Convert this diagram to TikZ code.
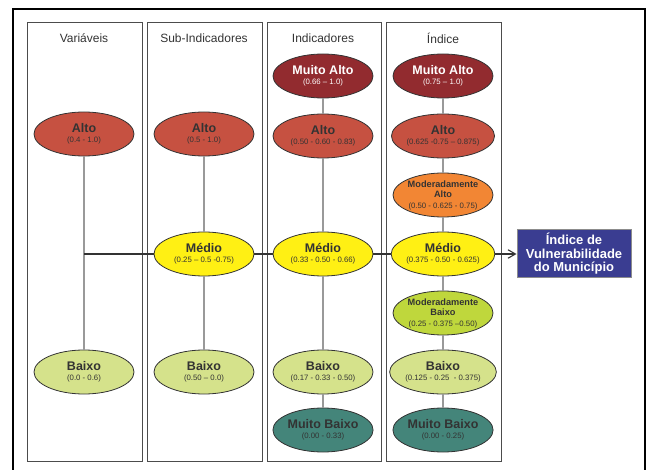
\documentclass[tikz,border=0pt]{standalone}
\usepackage{fontspec}
\setmainfont{Liberation Sans}
\usepackage{tikz}
\usetikzlibrary{arrows.meta}
\usetikzlibrary{shapes.geometric}
\usepackage{xcolor}

\definecolor{muitoalto}{HTML}{922B2F}
\definecolor{alto}{HTML}{C65141}
\definecolor{modalto}{HTML}{F28634}
\definecolor{medio}{HTML}{FFF014}
\definecolor{modbaixo}{HTML}{BFD73C}
\definecolor{baixo}{HTML}{D5E28B}
\definecolor{muitobaixo}{HTML}{44857A}
\definecolor{indice}{HTML}{3A3D91}
\definecolor{txt}{HTML}{333333}

\newcommand{\lvl}[2]{{\bfseries\fontsize{12.5}{13}\selectfont #1}\\[-2pt]{\fontsize{7.8}{8}\selectfont #2}}
\newcommand{\lvlmod}[3]{{\bfseries\fontsize{9.2}{9.5}\selectfont #1}\\[-1.5pt]{\bfseries\fontsize{9.2}{9.5}\selectfont #2}\\[-1.5pt]{\fontsize{7.8}{8}\selectfont #3}}

\begin{document}
\begin{tikzpicture}[x=1pt,y=-1pt]
\tikzset{>={Straight Barb[length=2.6mm,width=3mm]}}
\tikzstyle{level} =[ellipse, draw=txt, line width=0.8pt, text=txt, align=center, inner sep=0pt, minimum width=100pt, minimum height=44pt]
\tikzstyle{column} =[draw=black!70, line width=0.9pt]
\tikzstyle{title} =[text=txt, font=\fontsize{12}{13}\selectfont]
\tikzstyle{link} =[draw=black!40, line width=1.4pt]
\tikzstyle{flow} =[draw=txt, line width=1.1pt]

\useasboundingbox (0,0) rectangle (648,470);

% frame and columns
\draw [line width=1.4pt] (13,475) -- (13,9) -- (645,9) -- (645,475);
\draw [column] (27,22) rectangle (142,461);
\draw [column] (147,22) rectangle (262,461);
\draw [column] (267,22) rectangle (381,461);
\draw [column] (386,22) rectangle (501,461);

\node[title](t1) at (84,38){Variáveis};
\node[title](t2) at (204,38){Sub-Indicadores};
\node[title](t3) at (323,38){Indicadores};
\node[title](t4) at (443,38){Índice};

% Variaveis
\node[level,fill=alto](a1) at (84,134){\lvl{Alto}{(0.4 - 1.0)}};
\node[level,fill=baixo](b1) at (84,372){\lvl{Baixo}{(0.0 - 0.6)}};
\coordinate (j1) at (84,254);

% Sub-Indicadores
\node[level,fill=alto](a2) at (204,134){\lvl{Alto}{(0.5 - 1.0)}};
\node[level,fill=medio](m2) at (204,254){\lvl{Médio}{(0.25 -- 0.5 -0.75)}};
\node[level,fill=baixo](b2) at (204,372){\lvl{Baixo}{(0.50 -- 0.0)}};

% Indicadores
\node[level,fill=muitoalto,text=white](ma3) at (323,76){\lvl{Muito Alto}{(0.66 -- 1.0)}};
\node[level,fill=alto](a3) at (323,136){\lvl{Alto}{(0.50 - 0.60 - 0.83)}};
\node[level,fill=medio](m3) at (323,254){\lvl{Médio}{(0.33 - 0.50 - 0.66)}};
\node[level,fill=baixo](b3) at (323,372){\lvl{Baixo}{(0.17 - 0.33 - 0.50)}};
\node[level,fill=muitobaixo](mb3) at (323,430){\lvl{Muito Baixo}{(0.00 - 0.33)}};

% Indice
\node[level,fill=muitoalto,text=white](ma4) at (443,76){\lvl{Muito Alto}{(0.75 -- 1.0)}};
\node[level,fill=alto](a4) at (443,136){\lvl{Alto}{(0.625 -0.75 -- 0.875)}};
\node[level,fill=modalto](mod4) at (443,195){\lvlmod{Moderadamente}{Alto}{(0.50 - 0.625 - 0.75)}};
\node[level,fill=medio](m4) at (443,254){\lvl{Médio}{(0.375 - 0.50 - 0.625)}};
\node[level,fill=modbaixo](mob4) at (443,313){\lvlmod{Moderadamente}{Baixo}{(0.25 - 0.375 --0.50)}};
\node[level,fill=baixo](b4) at (443,372){\lvl{Baixo}{(0.125 - 0.25 \ - 0.375)}};
\node[level,fill=muitobaixo](mb4) at (443,430){\lvl{Muito Baixo}{(0.00 - 0.25)}};

\node[draw=black!45, line width=1pt, fill=indice, text=white, align=center, minimum width=114pt, minimum height=48pt, inner sep=0pt, font=\bfseries\fontsize{13}{13.5}\selectfont](out) at (574,254){Índice de\\Vulnerabilidade\\do Município};

% vertical links
\draw [link] (a1) -- (b1);
\draw [link] (a2) -- (m2);
\draw [link] (m2) -- (b2);
\draw [link] (ma3) -- (a3);
\draw [link] (a3) -- (m3);
\draw [link] (m3) -- (b3);
\draw [link] (b3) -- (mb3);
\draw [link] (ma4) -- (a4);
\draw [link] (a4) -- (mod4);
\draw [link] (mod4) -- (m4);
\draw [link] (m4) -- (mob4);
\draw [link] (mob4) -- (b4);
\draw [link] (b4) -- (mb4);

% horizontal flow
\draw [flow] (j1) -- (m2);
\draw [flow] (m2) -- (m3);
\draw [flow] (m3) -- (m4);
\draw [flow,->] (m4) -- (out);
\end{tikzpicture}
\end{document}
